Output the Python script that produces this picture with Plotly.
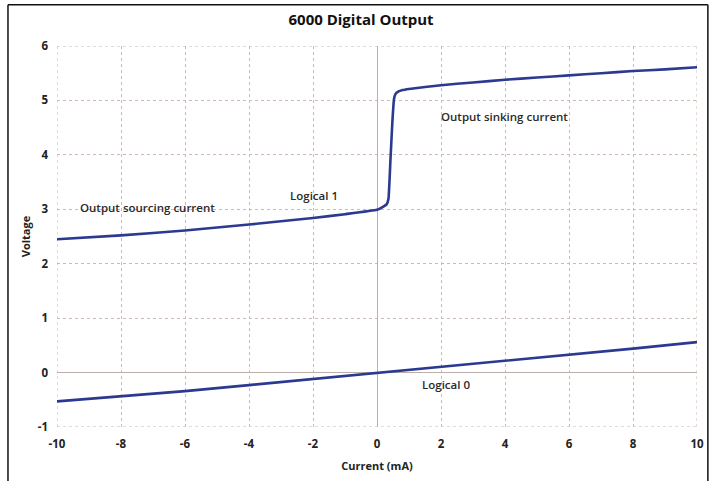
import plotly.graph_objects as go

# Logical 1 curve (current mA, voltage V)
high_current = [-10, -8, -6, -4, -2, -1, 0, 0.2, 0.3, 0.36, 0.42, 0.48, 0.53, 0.58, 0.66, 0.8, 1.0, 2, 3, 4, 5, 6, 7, 8, 9, 10]
high_voltage = [2.45, 2.52, 2.61, 2.72, 2.84, 2.91, 2.99, 3.05, 3.09, 3.2, 3.9, 4.6, 5.02, 5.12, 5.16, 5.19, 5.21, 5.28, 5.33, 5.38, 5.42, 5.46, 5.5, 5.54, 5.57, 5.61]

# Logical 0 curve
low_current = [-10, -8, -6, -4, -2, 0, 2, 4, 6, 8, 10]
low_voltage = [-0.53, -0.44, -0.34, -0.23, -0.12, -0.01, 0.1, 0.21, 0.32, 0.44, 0.56]

x_ticks = [-10, -8, -6, -4, -2, 0, 2, 4, 6, 8, 10]
y_ticks = [-1, 0, 1, 2, 3, 4, 5, 6]

labels_text = ["Output sourcing current", "Logical 1", "Output sinking current", "Logical 0"]
labels_x = [-7.16, -1.97, 3.98, 2.17]
labels_y = [3.03, 3.25, 4.70, -0.22]

line_color = "#2b3990"
grid_color = "#cdb8b2"
font_family = "Open Sans, Lato, sans-serif"

fig = go.Figure()
fig.add_trace(go.Scatter(x=high_current, y=high_voltage, mode="lines",
                         line=dict(color=line_color, width=2.6, shape="spline", smoothing=0.3),
                         showlegend=False, hoverinfo="skip"))
fig.add_trace(go.Scatter(x=low_current, y=low_voltage, mode="lines",
                         line=dict(color=line_color, width=2.6),
                         showlegend=False, hoverinfo="skip"))

for t, xx, yy in zip(labels_text, labels_x, labels_y):
    fig.add_annotation(x=xx, y=yy, text=t, showarrow=False,
                       font=dict(family=font_family, size=11.5, color="#2a2a2a", weight=600))

# dotted border grid lines at range edges
edge = dict(type="line", xref="x", yref="y", line=dict(color=grid_color, width=1, dash="dot"), layer="below")
fig.add_shape(**edge, x0=-10, x1=10, y0=-1, y1=-1)
fig.add_shape(**edge, x0=-10, x1=10, y0=6, y1=6)
fig.add_shape(**edge, x0=-10, x1=-10, y0=-1, y1=6)
fig.add_shape(**edge, x0=10, x1=10, y0=-1, y1=6)

# frame around figure (left, top, right)
frame = dict(type="line", xref="paper", yref="paper", line=dict(color="#111111", width=1.5))
fig.add_shape(**frame, x0=-0.0766, x1=-0.0766, y0=-0.2, y1=1.108)
fig.add_shape(**frame, x0=-0.0766, x1=1.017, y0=1.108, y1=1.108)
fig.add_shape(**frame, x0=1.017, x1=1.017, y0=-0.2, y1=1.108)

fig.update_layout(
    width=715, height=481,
    margin=dict(l=57, r=18, t=46, b=54),
    paper_bgcolor="white", plot_bgcolor="white",
    title=dict(text="<b>6000 Digital Output</b>", x=0.505, xanchor="center", y=0.958, yanchor="middle",
               font=dict(family=font_family, size=15, color="#111111")),
    font=dict(family=font_family, color="#222222"),
)
fig.update_xaxes(range=[-10, 10], tickvals=x_ticks, ticktext=[f"<b>{v}</b>" for v in x_ticks],
                 showgrid=True, gridcolor=grid_color, griddash="dot", gridwidth=1,
                 zeroline=True, zerolinecolor="#bcaea9", zerolinewidth=1.2,
                 showline=False, ticks="", ticklabelstandoff=8, tickfont=dict(size=11.5, color="#222222"),
                 title=dict(text="<b>Current (mA)</b>", font=dict(size=11, color="#222222"), standoff=12))
fig.update_yaxes(range=[-1, 6], tickvals=y_ticks, ticktext=[f"<b>{v}</b>" for v in y_ticks],
                 showgrid=True, gridcolor=grid_color, griddash="dot", gridwidth=1,
                 zeroline=True, zerolinecolor="#bcaea9", zerolinewidth=1.2,
                 showline=False, ticks="", ticklabelstandoff=8, tickfont=dict(size=11.5, color="#222222"),
                 title=dict(text="<b>Voltage</b>", font=dict(size=11, color="#222222"), standoff=4))

fig.write_html("out.html", config={"displayModeBar": False},
               post_script="document.body.style.margin='0px';")
